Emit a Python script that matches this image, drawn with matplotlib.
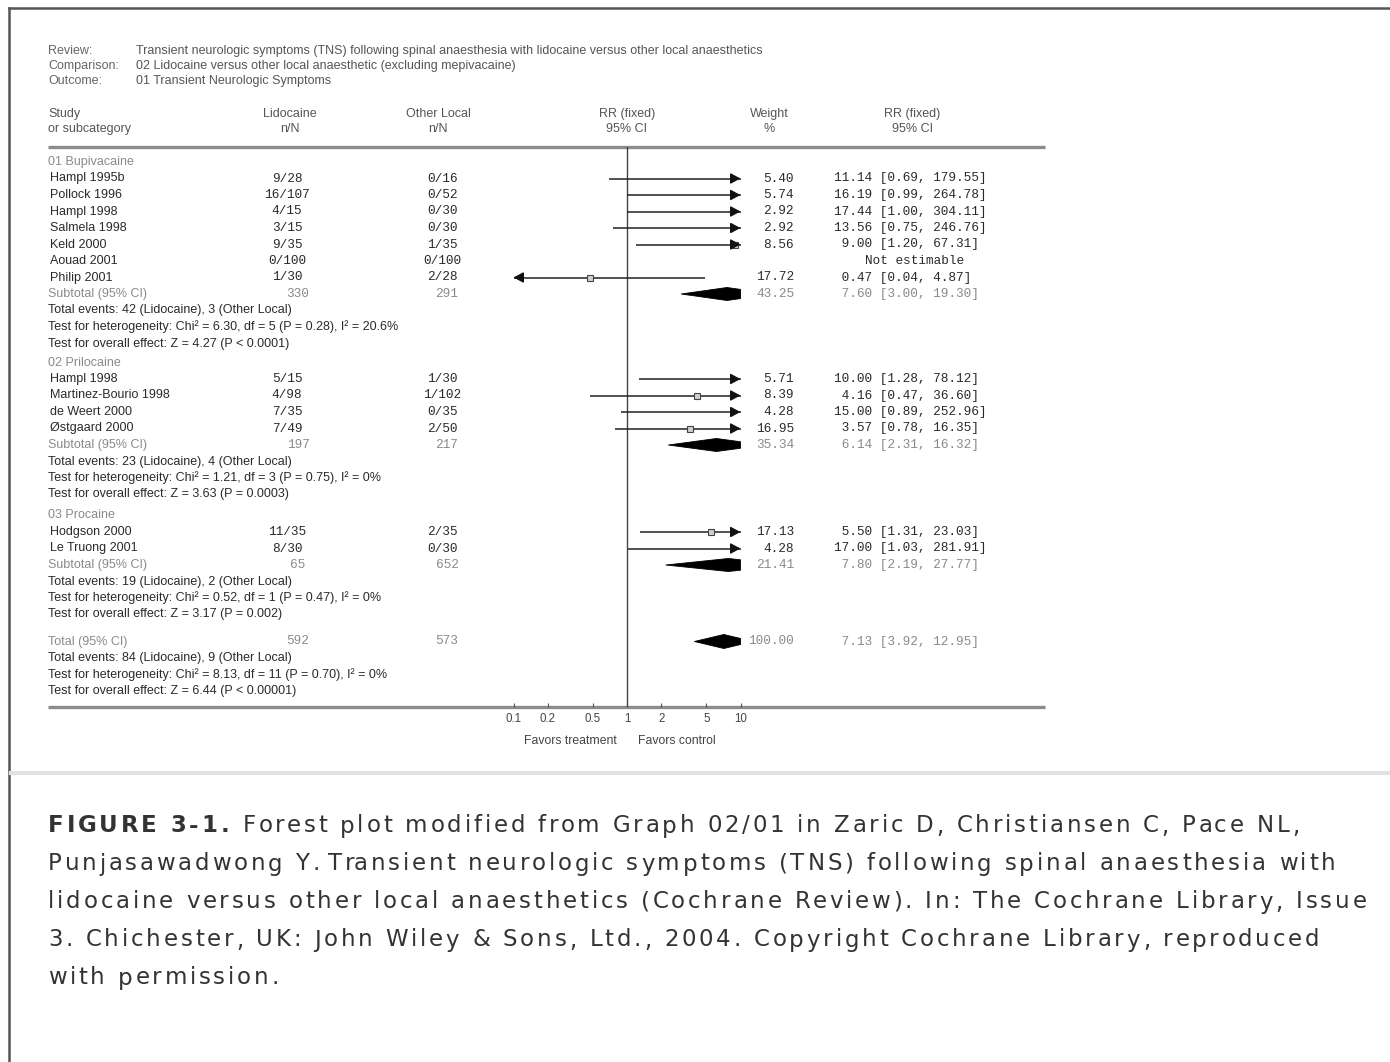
import numpy as np
import matplotlib
matplotlib.use("Agg")
import matplotlib.pyplot as plt
from matplotlib.patches import Polygon
from matplotlib.font_manager import FontProperties

W, H = 1390, 1062

review = "Transient neurologic symptoms (TNS) following spinal anaesthesia with lidocaine versus other local anaesthetics"
comparison = "02 Lidocaine versus other local anaesthetic (excluding mepivacaine)"
outcome = "01 Transient Neurologic Symptoms"

groups = ["01 Bupivacaine", "02 Prilocaine", "03 Procaine"]
study_group = [0, 0, 0, 0, 0, 0, 0, 1, 1, 1, 1, 2, 2]
studies = ["Hampl 1995b", "Pollock 1996", "Hampl 1998", "Salmela 1998", "Keld 2000",
           "Aouad 2001", "Philip 2001",
           "Hampl 1998", "Martinez-Bourio 1998", "de Weert 2000", "Østgaard 2000",
           "Hodgson 2000", "Le Truong 2001"]
lido_nN = ["9/28", "16/107", "4/15", "3/15", "9/35", "0/100", "1/30",
           "5/15", "4/98", "7/35", "7/49", "11/35", "8/30"]
other_nN = ["0/16", "0/52", "0/30", "0/30", "1/35", "0/100", "2/28",
            "1/30", "1/102", "0/35", "2/50", "2/35", "0/30"]
weight = [5.40, 5.74, 2.92, 2.92, 8.56, None, 17.72, 5.71, 8.39, 4.28, 16.95, 17.13, 4.28]
rr = [11.14, 16.19, 17.44, 13.56, 9.00, None, 0.47, 10.00, 4.16, 15.00, 3.57, 5.50, 17.00]
rr_lo = [0.69, 0.99, 1.00, 0.75, 1.20, None, 0.04, 1.28, 0.47, 0.89, 0.78, 1.31, 1.03]
rr_hi = [179.55, 264.78, 304.11, 246.76, 67.31, None, 4.87, 78.12, 36.60, 252.96, 16.35, 23.03, 281.91]

sub_lido_n = [330, 197, 65]
sub_other_n = [291, 217, 652]
sub_weight = [43.25, 35.34, 21.41]
sub_rr = [7.60, 6.14, 7.80]
sub_lo = [3.00, 2.31, 2.19]
sub_hi = [19.30, 16.32, 27.77]
sub_ev_lido = [42, 23, 19]
sub_ev_other = [3, 4, 2]
sub_chi = ["6.30", "1.21", "0.52"]
sub_df = [5, 3, 1]
sub_p_het = ["0.28", "0.75", "0.47"]
sub_i2 = ["20.6%", "0%", "0%"]
sub_z = ["4.27", "3.63", "3.17"]
sub_p_z = ["P < 0.0001", "P = 0.0003", "P = 0.002"]

tot_lido_n, tot_other_n = 592, 573
tot_weight = 100.00
tot_rr, tot_lo, tot_hi = 7.13, 3.92, 12.95
tot_ev_lido, tot_ev_other = 84, 9
tot_chi, tot_df, tot_p_het, tot_i2 = "8.13", 11, "0.70", "0%"
tot_z, tot_p_z = "6.44", "P < 0.00001"

ticks = [0.1, 0.2, 0.5, 1, 2, 5, 10]
tick_labels = ["0.1", "0.2", "0.5", "1", "2", "5", "10"]

caption_bold = "FIGURE 3-1. "
caption = ["Forest plot modified from Graph 02/01 in Zaric D, Christiansen C, Pace NL,",
           "Punjasawadwong Y. Transient neurologic symptoms (TNS) following spinal anaesthesia with",
           "lidocaine versus other local anaesthetics (Cochrane Review). In: The Cochrane Library, Issue",
           "3. Chichester, UK: John Wiley & Sons, Ltd., 2004. Copyright Cochrane Library, reproduced",
           "with permission."]

SANS = "Liberation Sans"
MONO = "Liberation Mono"
FS = 9.0
MFS = 9.2
DARK = "#2a2a2a"
GREY = "#8a8a8a"

fig = plt.figure(figsize=(W / 100, H / 100), dpi=100)
bg = fig.add_axes([0, 0, 1, 1])
bg.set_xlim(0, W)
bg.set_ylim(H, 0)
bg.axis("off")

# frame and separator
bg.plot([9, W], [8, 8], color="#555555", lw=1.8)
bg.plot([9, 9], [8, H], color="#555555", lw=1.8)
bg.plot([11, W], [773, 773], color="#e2e2e2", lw=3)

# forest axes: log scale mapped onto pixel columns 513.5..740.5
x0, x1 = 513.5, 740.5
ytop, ybot = 147, 707
fax = fig.add_axes([x0 / W, 1 - ybot / H, (x1 - x0) / W, (ybot - ytop) / H])
fax.set_xscale("log")
fax.set_xlim(0.1, 10)
fax.set_ylim(ybot, ytop)
fax.set_frame_on(False)
fax.tick_params(axis="y", left=False, labelleft=False)
fax.set_xticks(ticks)
fax.set_xticklabels(tick_labels, fontfamily=SANS, fontsize=8.3, color="#444444")
fax.xaxis.set_minor_locator(matplotlib.ticker.NullLocator())
fax.tick_params(axis="x", direction="in", length=3, width=0.8, color="#555555", pad=4)
fax.axvline(1, color="#444444", lw=1)

# header
for i, (lab, val) in enumerate([("Review:", review), ("Comparison:", comparison), ("Outcome:", outcome)]):
    yy = 51 + i * 15
    bg.text(48, yy, lab, fontsize=FS, family=SANS, color="#666666", va="center")
    bg.text(136, yy, val, fontsize=FS, family=SANS, color="#555555", va="center")

bg.text(48, 114, "Study", fontsize=FS, family=SANS, color="#555555", va="center")
bg.text(48, 129, "or subcategory", fontsize=FS, family=SANS, color="#555555", va="center")
for xc, l1, l2 in [(290, "Lidocaine", "n/N"), (438, "Other Local", "n/N"), (627, "RR (fixed)", "95% CI"),
                   (769, "Weight", "%"), (912, "RR (fixed)", "95% CI")]:
    bg.text(xc, 114, l1, fontsize=FS, family=SANS, color="#555555", va="center", ha="center")
    bg.text(xc, 129, l2, fontsize=FS, family=SANS, color="#555555", va="center", ha="center")

bg.plot([48, 1045], [147, 147], color="#8c8c8c", lw=2.4, solid_capstyle="butt")
bg.plot([48, 1045], [ybot, ybot], color="#8c8c8c", lw=2.4, solid_capstyle="butt")


def diamond(est, lo, hi, y, h):
    right = min(hi, 10)
    f = 0.0
    if hi > 10:
        f = (np.log10(hi) - 1) / (np.log10(hi) - np.log10(est))
    pts = [(lo, y), (est, y - h), (right, y - h * f), (right, y + h * f), (est, y + h)]
    fax.add_patch(Polygon(pts, closed=True, fc="black", ec="black", lw=0.6, clip_on=False))


def arrow_head(xa, xb, y):
    fax.annotate("", xy=(xb, y), xytext=(xa, y), annotation_clip=False,
                 arrowprops=dict(arrowstyle="-|>,head_length=0.6,head_width=0.32", color="#111111",
                                 lw=1, shrinkA=0, shrinkB=0, mutation_scale=10))


def ci_line(est, lo, hi, y):
    left, right = max(lo, 0.1), min(hi, 10)
    fax.plot([left, right], [y, y], color="#222222", lw=1.1, clip_on=False, solid_capstyle="butt")
    if hi > 10:
        arrow_head(8.5, 10, y)
    if lo < 0.1:
        arrow_head(0.12, 0.1, y)
    if 0.1 < est < 10:
        fax.plot(est, y, marker="s", ms=4, mfc="#d0d0d0", mec="#444444", mew=0.8, clip_on=False)


def num_cols(w, est, lo, hi, y, color):
    bg.text(794, y, "%.2f" % w, fontsize=MFS, family=MONO, color=color, va="center", ha="right")
    bg.text(834, y, "%5.2f [%.2f, %.2f]" % (est, lo, hi), fontsize=MFS, family=MONO,
            color=color, va="center", ha="left")


def stats_lines(y, ev_l, ev_o, chi, df, p_het, i2, z, p_z):
    lines = ["Total events: %d (Lidocaine), %d (Other Local)" % (ev_l, ev_o),
             "Test for heterogeneity: Chi² = %s, df = %d (P = %s), I² = %s" % (chi, df, p_het, i2),
             "Test for overall effect: Z = %s (%s)" % (z, p_z)]
    for k, s in enumerate(lines):
        bg.text(48, y + k * pitch, s, fontsize=FS, family=SANS, color=DARK, va="center")


pitch = 16.5
gap_after = [19, 21, 27]
y = 162
for g, name in enumerate(groups):
    bg.text(48, y, name, fontsize=FS, family=SANS, color=GREY, va="center")
    y += pitch
    for i in [k for k, sg in enumerate(study_group) if sg == g]:
        bg.text(50, y, studies[i], fontsize=FS, family=SANS, color=DARK, va="center")
        bg.text(287, y, lido_nN[i], fontsize=MFS, family=MONO, color=DARK, va="center", ha="center")
        bg.text(442, y, other_nN[i], fontsize=MFS, family=MONO, color=DARK, va="center", ha="center")
        if rr[i] is None:
            bg.text(915, y, "Not estimable", fontsize=MFS, family=MONO, color=DARK, va="center", ha="center")
        else:
            ci_line(rr[i], rr_lo[i], rr_hi[i], y)
            num_cols(weight[i], rr[i], rr_lo[i], rr_hi[i], y, DARK)
        y += pitch
    bg.text(48, y, "Subtotal (95% CI)", fontsize=FS, family=SANS, color=GREY, va="center")
    bg.text(298, y, str(sub_lido_n[g]), fontsize=MFS, family=MONO, color=GREY, va="center", ha="center")
    bg.text(447, y, str(sub_other_n[g]), fontsize=MFS, family=MONO, color=GREY, va="center", ha="center")
    diamond(sub_rr[g], sub_lo[g], sub_hi[g], y, 6.5)
    num_cols(sub_weight[g], sub_rr[g], sub_lo[g], sub_hi[g], y, GREY)
    y += pitch
    stats_lines(y, sub_ev_lido[g], sub_ev_other[g], sub_chi[g], sub_df[g], sub_p_het[g],
                sub_i2[g], sub_z[g], sub_p_z[g])
    y += 2 * pitch + gap_after[g]

bg.text(48, y, "Total (95% CI)", fontsize=FS, family=SANS, color=GREY, va="center")
bg.text(298, y, str(tot_lido_n), fontsize=MFS, family=MONO, color=GREY, va="center", ha="center")
bg.text(447, y, str(tot_other_n), fontsize=MFS, family=MONO, color=GREY, va="center", ha="center")
diamond(tot_rr, tot_lo, tot_hi, y, 7)
num_cols(tot_weight, tot_rr, tot_lo, tot_hi, y, GREY)
stats_lines(y + pitch, tot_ev_lido, tot_ev_other, tot_chi, tot_df, tot_p_het, tot_i2, tot_z, tot_p_z)

bg.text(570, 741, "Favors treatment", fontsize=8.8, family=SANS, color="#444444", va="center", ha="center")
bg.text(677, 741, "Favors control", fontsize=8.8, family=SANS, color="#444444", va="center", ha="center")

# caption, letter-spaced like the web page
fig.canvas.draw()
r = fig.canvas.get_renderer()
CFS = 16.5
p_reg = FontProperties(family="DejaVu Sans", size=CFS)
p_bold = FontProperties(family="DejaVu Sans", size=CFS, weight="bold")


def adv(s, prop):
    w_bar = r.get_text_width_height_descent("|", prop, ismath=False)[0]
    return r.get_text_width_height_descent(s + "|", prop, ismath=False)[0] - w_bar


def spaced(x, yy, s, prop, track):
    for i, ch in enumerate(s):
        if ch == " ":
            continue
        bg.text(x + adv(s[:i], prop) + i * track, yy, ch, fontproperties=prop, color="#333333", va="center")
    return x + adv(s, prop) + len(s) * track


# one letter-spacing value, fitted to where the first four lines end
line_ends = [1318, 1330, 1356, 1316]
fits = []
for k in range(4):
    nat = adv(caption[k], p_reg)
    n = len(caption[k]) - 1
    if k == 0:
        nat += adv(caption_bold, p_bold)
        n += len(caption_bold)
    fits.append((line_ends[k] - 48 - nat) / n)
track = max(0.0, float(np.mean(fits)))

for k, line in enumerate(caption):
    yy = 826 + k * 38
    xx = 48
    if k == 0:
        xx = spaced(xx, yy, caption_bold, p_bold, track)
    spaced(xx, yy, line, p_reg, track)

fig.savefig("out.png", dpi=100)
